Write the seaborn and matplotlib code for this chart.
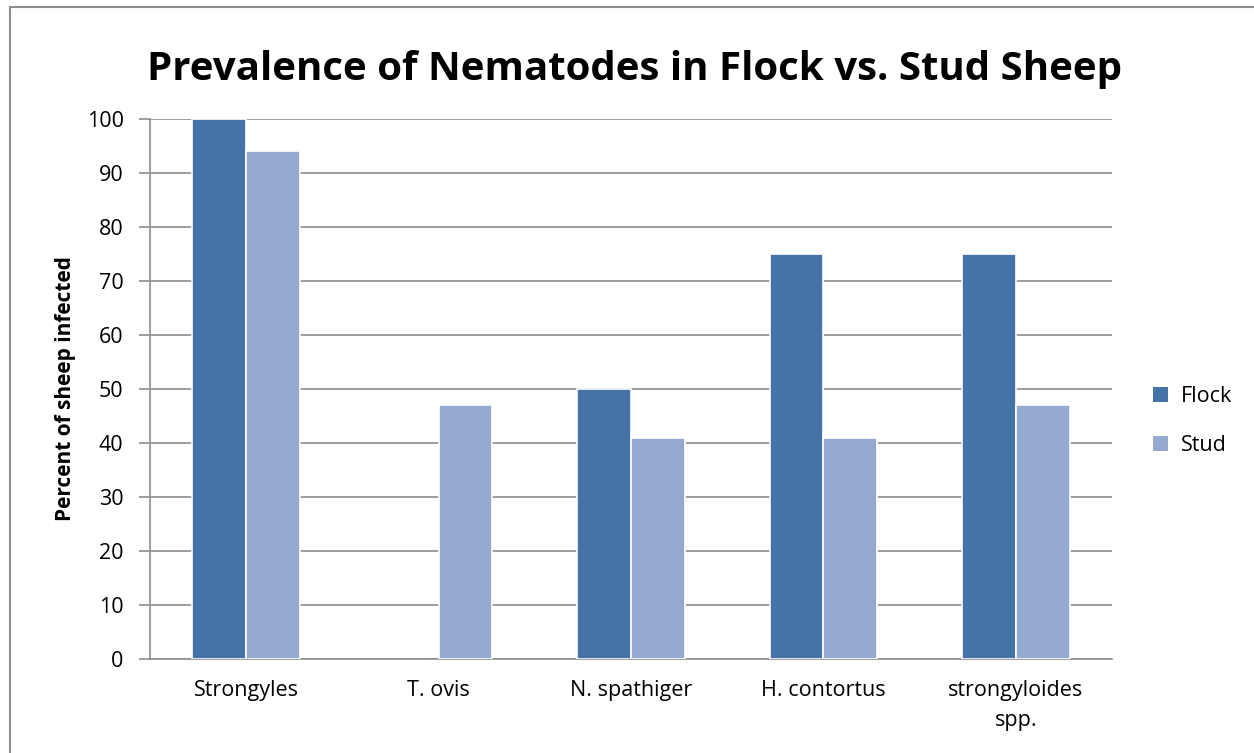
import pandas as pd
import matplotlib.pyplot as plt
import matplotlib.patches as mpatches
import seaborn as sns

# Dane
categories = ["Strongyles", "T. ovis", "N. spathiger", "H. contortus", "strongyloides\nspp."]
flock = [100, 0, 50, 75, 75]
stud = [94, 47, 41, 41, 47]
yticks = [0, 10, 20, 30, 40, 50, 60, 70, 80, 90, 100]

df = pd.DataFrame({
    "Nematode": categories * 2,
    "Percent": flock + stud,
    "Group": ["Flock"] * len(categories) + ["Stud"] * len(categories),
})

sns.set_theme(style="white")
plt.rcParams["font.family"] = ["Open Sans", "DejaVu Sans"]
plt.rcParams["text.color"] = "black"
plt.rcParams["axes.labelcolor"] = "black"
plt.rcParams["xtick.color"] = "black"
plt.rcParams["ytick.color"] = "black"

fig = plt.figure(figsize=(12.54, 7.53), dpi=100)
ax = fig.add_axes([150 / 1254, 1 - 659 / 753, 962 / 1254, 540 / 753])

sns.barplot(data=df, x="Nematode", y="Percent", hue="Group",
            palette={"Flock": "#4573A7", "Stud": "#94AAD1"},
            saturation=1, width=0.56, edgecolor="white", linewidth=1.2,
            ax=ax, zorder=3)

# słupek o wysokości 0 bez obramowania
for p in ax.patches:
    if p.get_height() == 0:
        p.set_linewidth(0)

ax.set_ylim(0, 100)
ax.set_xlim(-0.5, len(categories) - 0.5)
ax.set_yticks(yticks)
ax.yaxis.grid(True, color="#8c8c8c", linewidth=1.2, zorder=0)
ax.set_axisbelow(True)
for side in ["top", "right"]:
    ax.spines[side].set_visible(False)
ax.spines["left"].set_color("#8c8c8c")
ax.spines["bottom"].set_color("#8c8c8c")
ax.spines["left"].set_linewidth(1.2)
ax.spines["bottom"].set_linewidth(1.2)
ax.tick_params(axis="y", left=True, length=8, color="#8c8c8c", width=1.2,
               labelsize=15.5, pad=11, labelcolor="black")
ax.tick_params(axis="x", bottom=False, labelsize=15.5, pad=9, labelcolor="black")
for lbl in ax.get_xticklabels():
    lbl.set_linespacing(1.6)
ax.set_xlabel("")
ax.set_ylabel("Percent of sheep infected", fontsize=15, fontweight="bold", labelpad=8)

fig.suptitle("Prevalence of Nematodes in Flock vs. Stud Sheep",
             fontsize=29, fontweight="bold", x=0.506, y=0.934, color="black")

handles, labels = ax.get_legend_handles_labels()
ax.legend(handles, labels, loc="center left", bbox_to_anchor=(1.022, 0.44),
          frameon=False, fontsize=15.5, handlelength=0.7, handleheight=0.7,
          labelspacing=1.3, handletextpad=0.6)

# ramka wykresu
fig.patches.append(mpatches.Rectangle((10 / 1254, -0.1), 1.2, 1 - 7 / 753 + 0.1,
                                      transform=fig.transFigure, fill=False,
                                      edgecolor="#8c8c8c", linewidth=1.5))

plt.savefig("out.png", dpi=100)
